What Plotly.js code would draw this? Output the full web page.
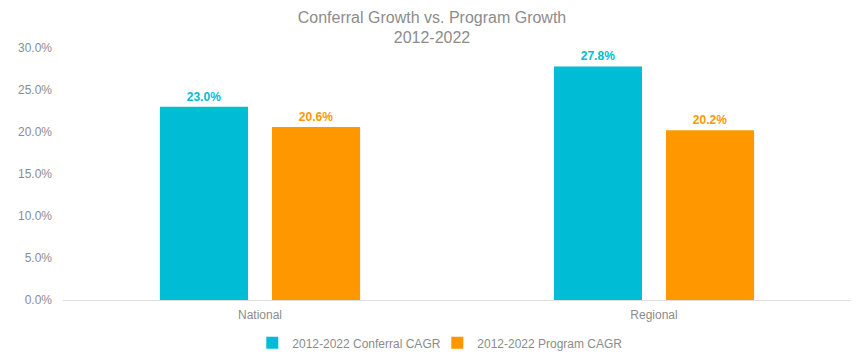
<!DOCTYPE html>
<html><head><meta charset="utf-8">
<script src="https://cdn.plot.ly/plotly-3.0.1.min.js"></script>
<style>html,body{margin:0;padding:0;background:#fff}#chart{width:864px;height:358px}</style>
</head><body><div id="chart"></div>
<script>
const categories = ["National", "Regional"];
const conferralCAGR = [0.230, 0.278];
const programCAGR = [0.206, 0.202];
const seriesNames = ["2012-2022 Conferral CAGR", "2012-2022 Program CAGR"];
const yTicks = [0, 0.05, 0.10, 0.15, 0.20, 0.25, 0.30];

const cyan = "#00BCD4", orange = "#FF9800";
function bar(name, vals, color) {
  return {
    type: "bar", name: name, x: categories, y: vals,
    marker: {color: color},
    text: vals.map(v => (v*100).toFixed(1) + "%"),
    textposition: "outside",
    textfont: {color: color, size: 12, family: "Liberation Sans, Arial, sans-serif", weight: "bold"},
    cliponaxis: false,
    hoverinfo: "none"
  };
}
const data = [bar(seriesNames[0], conferralCAGR, cyan), bar(seriesNames[1], programCAGR, orange)];
const layout = {
  width: 864, height: 358,
  margin: {l: 63, r: 13, t: 48, b: 58, autoexpand: false},
  paper_bgcolor: "#fff", plot_bgcolor: "#fff",
  font: {family: "Liberation Sans, Arial, sans-serif", color: "#8c8c8c", size: 12},
  title: {text: "Conferral Growth vs. Program Growth<br>2012-2022", x: 0.5, xanchor: "center",
          y: 0.937, yref: "container", yanchor: "top",
          font: {family: "Liberation Sans, Arial, sans-serif", size: 16, color: "#8c8c8c"}},
  barmode: "group", bargap: 0.431, bargroupgap: 0.214,
  xaxis: {showline: true, linecolor: "#dedede", linewidth: 1, ticks: "", ticklabelstandoff: 4,
          tickfont: {size: 12, color: "#8c8c8c"}},
  yaxis: {range: [0, 0.30], tickvals: yTicks, tickformat: ".1%", showgrid: false, zeroline: false,
          showline: false, ticks: "", ticklabelstandoff: 10, tickfont: {size: 12, color: "#8c8c8c"}},
  legend: {orientation: "h", x: 0.475, xanchor: "center", y: -0.17, yanchor: "middle",
           font: {size: 12, color: "#8c8c8c"}, itemwidth: 30, entrywidth: 140, traceorder: "normal"},
  showlegend: true
};
Plotly.newPlot("chart", data, layout, {displayModeBar: false, staticPlot: true});
</script></body></html>
